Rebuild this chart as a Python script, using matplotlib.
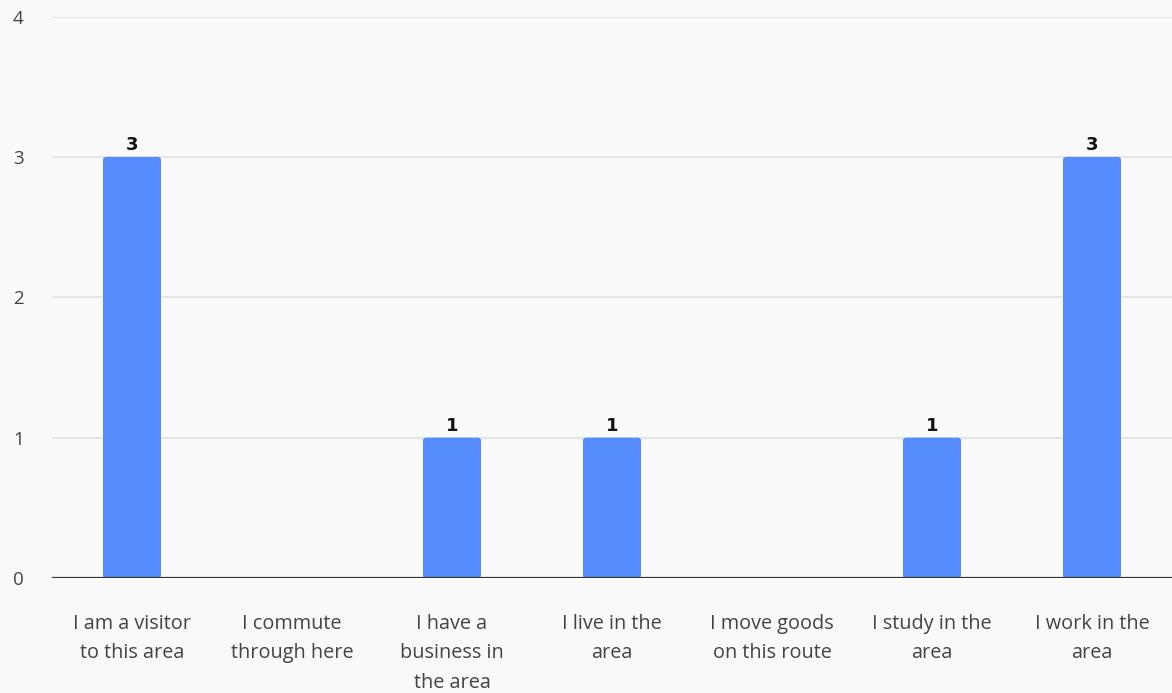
import matplotlib.pyplot as plt
from matplotlib.patches import FancyBboxPatch

categories = [
    "I am a visitor\nto this area",
    "I commute\nthrough here",
    "I have a\nbusiness in\nthe area",
    "I live in the\narea",
    "I move goods\non this route",
    "I study in the\narea",
    "I work in the\narea",
]
counts = [3, 0, 1, 1, 0, 1, 3]
y_ticks = [0, 1, 2, 3, 4]

bg = "#f9f9f9"
bar_color = "#558cfd"

fig = plt.figure(figsize=(11.72, 6.93), dpi=100, facecolor=bg)
ax = fig.add_axes([52 / 1172, 115 / 693, 1120 / 1172, 561.5 / 693], facecolor=bg)

x = list(range(len(categories)))
bars = ax.bar(x, counts, width=0.3625, color=bar_color, zorder=2)

# swap plain rectangles for slightly rounded ones
for b in bars:
    b.set_visible(False)
    if b.get_height() <= 0:
        continue
    patch = FancyBboxPatch((b.get_x(), b.get_y()), b.get_width(), b.get_height(),
                           boxstyle="round,pad=0,rounding_size=0.02",
                           mutation_aspect=1.0,
                           fc=bar_color, ec="none", zorder=2)
    ax.add_patch(patch)

for xi, v in zip(x, counts):
    if v > 0:
        ax.text(xi, v + 0.02, str(v), ha="center", va="bottom",
                fontsize=13, fontweight="bold", color="#111111",
                family="DejaVu Sans")

ax.set_xlim(-0.5, len(categories) - 0.5)
ax.set_ylim(0, 4)
ax.set_yticks(y_ticks)
ax.set_yticklabels([str(t) for t in y_ticks], family="Open Sans",
                   fontsize=13.5, color="#444444")
ax.set_xticks(x)
ax.set_xticklabels(categories, family="Open Sans", fontsize=14.3,
                   color="#444444", linespacing=1.62, va="top")
ax.tick_params(axis="y", length=0, pad=28)
ax.tick_params(axis="x", length=0, pad=26)

for t in y_ticks[1:]:
    ax.axhline(t, color="#e2e2e2", lw=1.2, zorder=1)
ax.axhline(0, color="#333333", lw=1.6, zorder=3)

for s in ax.spines.values():
    s.set_visible(False)
for lbl in ax.get_yticklabels():
    lbl.set_horizontalalignment("left")

fig.savefig("out.png", dpi=100, facecolor=bg)
